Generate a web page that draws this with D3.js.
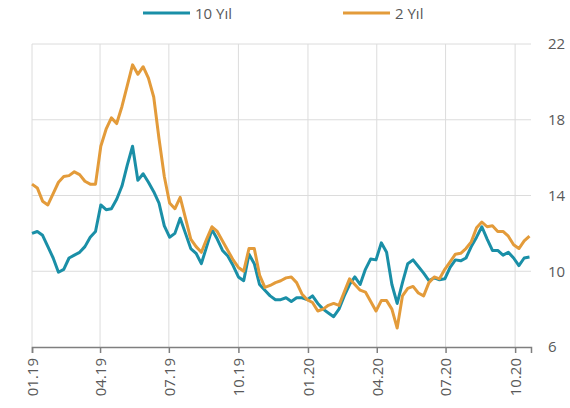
<!DOCTYPE html>
<html>
<head>
<meta charset="utf-8">
<script src="https://cdn.jsdelivr.net/npm/d3@7"></script>
<style>
  body { margin: 0; background: #ffffff; }
  .axisText { font-family: "Open Sans", sans-serif; font-size: 15px; fill: #595959; }
</style>
</head>
<body>
<div id="chart"></div>
<script>
// weekly points
var dates = [
  "2019-01-01","2019-01-08","2019-01-15","2019-01-22","2019-01-29","2019-02-05","2019-02-12","2019-02-19","2019-02-26",
  "2019-03-05","2019-03-12","2019-03-19","2019-03-26","2019-04-02","2019-04-09","2019-04-16","2019-04-23","2019-04-30",
  "2019-05-07","2019-05-14","2019-05-21","2019-05-28","2019-06-04","2019-06-11","2019-06-18","2019-06-25","2019-07-02",
  "2019-07-09","2019-07-16","2019-07-23","2019-07-30","2019-08-06","2019-08-13","2019-08-20","2019-08-27","2019-09-03",
  "2019-09-10","2019-09-17","2019-09-24","2019-10-01","2019-10-08","2019-10-15","2019-10-22","2019-10-29","2019-11-05",
  "2019-11-12","2019-11-19","2019-11-26","2019-12-03","2019-12-10","2019-12-17","2019-12-24","2019-12-31","2020-01-07",
  "2020-01-14","2020-01-21","2020-01-28","2020-02-04","2020-02-11","2020-02-18","2020-02-25","2020-03-03","2020-03-10",
  "2020-03-17","2020-03-24","2020-03-31","2020-04-07","2020-04-14","2020-04-21","2020-04-28","2020-05-05","2020-05-12",
  "2020-05-19","2020-05-26","2020-06-02","2020-06-09","2020-06-16","2020-06-23","2020-06-30","2020-07-07","2020-07-14",
  "2020-07-21","2020-07-28","2020-08-04","2020-08-11","2020-08-18","2020-08-25","2020-09-01","2020-09-08","2020-09-15",
  "2020-09-22","2020-09-29","2020-10-06","2020-10-13","2020-10-20"
];

var yield10 = [
  12.0, 12.1, 11.9, 11.3, 10.7, 9.95, 10.1, 10.7, 10.85, 11.0, 11.3, 11.8, 12.1,
  13.5, 13.25, 13.3, 13.8, 14.5, 15.6, 16.6, 14.8, 15.15, 14.7, 14.2, 13.6, 12.4,
  11.8, 12.0, 12.8, 12.0, 11.2, 10.95, 10.4, 11.3, 12.2, 11.7, 11.1, 10.8, 10.3,
  9.7, 9.5, 10.9, 10.4, 9.3, 9.0, 8.7, 8.5, 8.5, 8.6, 8.4, 8.6, 8.6, 8.5,
  8.7, 8.3, 8.0, 7.8, 7.6, 8.0, 8.7, 9.3, 9.7, 9.3, 10.1, 10.65, 10.6, 11.5,
  11.0, 9.3, 8.3, 9.4, 10.4, 10.6, 10.25, 9.9, 9.5, 9.65, 9.55, 9.6, 10.2,
  10.6, 10.55, 10.7, 11.3, 11.8, 12.35, 11.7, 11.1, 11.1, 10.85, 11.0, 10.7, 10.3,
  10.7, 10.75
];

var yield2 = [
  14.6, 14.4, 13.7, 13.5, 14.1, 14.7, 15.0, 15.05, 15.25, 15.1, 14.75, 14.6, 14.6,
  16.6, 17.5, 18.1, 17.8, 18.7, 19.8, 20.9, 20.4, 20.8, 20.2, 19.2, 17.0, 15.0,
  13.6, 13.3, 13.9, 12.8, 11.7, 11.3, 11.0, 11.7, 12.35, 12.1, 11.6, 11.1, 10.6,
  10.2, 10.0, 11.2, 11.2, 9.8, 9.15, 9.25, 9.4, 9.5, 9.65, 9.7, 9.4, 8.8, 8.5,
  8.35, 7.9, 8.0, 8.2, 8.3, 8.2, 8.9, 9.6, 9.3, 9.0, 8.9, 8.4, 7.9, 8.45,
  8.45, 8.0, 7.0, 8.7, 9.1, 9.2, 8.85, 8.7, 9.4, 9.7, 9.6, 10.1, 10.5,
  10.9, 10.95, 11.2, 11.55, 12.3, 12.6, 12.35, 12.4, 12.1, 12.1, 11.85, 11.4, 11.2,
  11.6, 11.85
];

var seriesNames = ["10 Yıl", "2 Yıl"];
var seriesColors = ["#1a8fa7", "#e39b3a"];
var yTicks = [6, 10, 14, 18, 22];
var xTicks = ["2019-01-01","2019-04-01","2019-07-01","2019-10-01","2020-01-01","2020-04-01","2020-07-01","2020-10-01"];

var svgWidth = 570;
var svgHeight = 408;
var margin = { top: 44, right: 39, bottom: 61, left: 32 };
var width = svgWidth - margin.left - margin.right;
var height = svgHeight - margin.top - margin.bottom;

var parseDate = d3.timeParse("%Y-%m-%d");

var svg = d3.select("#chart")
  .append("svg")
  .attr("width", svgWidth)
  .attr("height", svgHeight);

var chartGroup = svg.append("g")
  .attr("transform", `translate(${margin.left}, ${margin.top})`);

var xTimeScale = d3.scaleTime()
  .domain([parseDate("2019-01-01"), parseDate("2020-10-22")])
  .range([0, width]);

var yLinearScale = d3.scaleLinear()
  .domain([6, 22])
  .range([height, 0]);

// gridlines
chartGroup.append("g")
  .selectAll("line")
  .data(yTicks.filter(d => d > 6))
  .enter()
  .append("line")
  .attr("x1", 0)
  .attr("x2", width)
  .attr("y1", d => yLinearScale(d))
  .attr("y2", d => yLinearScale(d))
  .attr("stroke", "#dcdcdc")
  .attr("stroke-width", 1);

chartGroup.append("g")
  .selectAll("line")
  .data(xTicks)
  .enter()
  .append("line")
  .attr("x1", d => xTimeScale(parseDate(d)))
  .attr("x2", d => xTimeScale(parseDate(d)))
  .attr("y1", 0)
  .attr("y2", height)
  .attr("stroke", "#dcdcdc")
  .attr("stroke-width", 1);

// x axis
var xAxis = d3.axisBottom(xTimeScale)
  .tickValues(xTicks.map(parseDate))
  .tickSize(6)
  .tickFormat(d3.timeFormat("%m.%y"));

var xAxisGroup = chartGroup.append("g")
  .attr("transform", `translate(0, ${height})`)
  .call(xAxis);

xAxisGroup.select(".domain").attr("stroke", "#7f7f7f").attr("stroke-width", 1.5);
xAxisGroup.selectAll(".tick line").attr("stroke", "#7f7f7f").attr("stroke-width", 1.5);
xAxisGroup.selectAll("text")
  .attr("class", "axisText")
  .attr("transform", "rotate(-90)")
  .attr("text-anchor", "end")
  .attr("x", -11)
  .attr("y", 0)
  .attr("dy", "0.35em");

// y axis on the right
var yAxis = d3.axisRight(yLinearScale)
  .tickValues(yTicks)
  .tickSize(0)
  .tickPadding(17);

var yAxisGroup = chartGroup.append("g")
  .attr("transform", `translate(${width}, 0)`)
  .call(yAxis);

yAxisGroup.select(".domain").remove();
yAxisGroup.selectAll("text").attr("class", "axisText");

// lines
var lineGen = d3.line()
  .x((d, i) => xTimeScale(parseDate(dates[i])))
  .y(d => yLinearScale(d));

[yield10, yield2].forEach(function(values, i) {
  chartGroup.append("path")
    .datum(values)
    .attr("fill", "none")
    .attr("stroke", seriesColors[i])
    .attr("stroke-width", 3)
    .attr("stroke-linejoin", "round")
    .attr("d", lineGen);
});

// legend
var legendX = [143, 343];
var legend = svg.append("g");
seriesNames.forEach(function(name, i) {
  legend.append("line")
    .attr("x1", legendX[i])
    .attr("x2", legendX[i] + 47)
    .attr("y1", 13)
    .attr("y2", 13)
    .attr("stroke", seriesColors[i])
    .attr("stroke-width", 3);
  legend.append("text")
    .attr("class", "axisText")
    .attr("x", legendX[i] + 52)
    .attr("y", 18.5)
    .text(name);
});
</script>
</body>
</html>
